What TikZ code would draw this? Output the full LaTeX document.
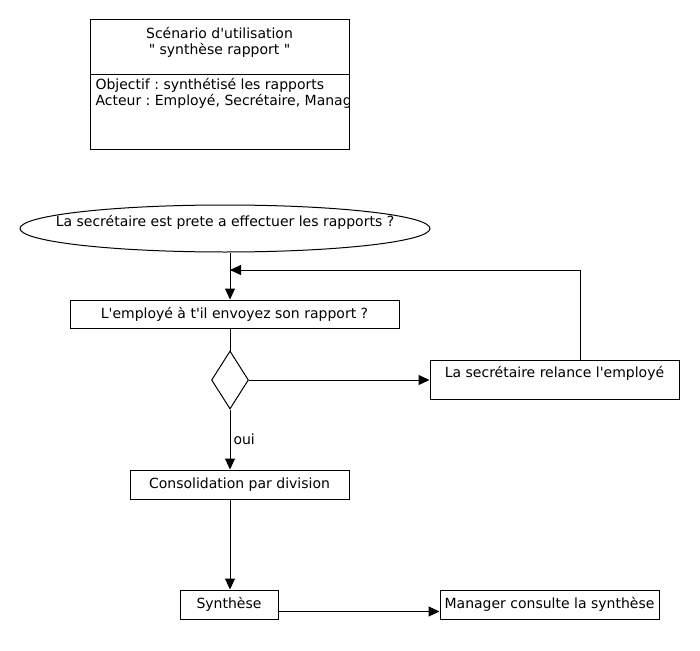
\documentclass[tikz,border=0pt]{standalone}
\usepackage{fontspec}
\setmainfont{DejaVu Sans}[Ligatures=TeXOff]
\frenchspacing
\usetikzlibrary{positioning,shapes.geometric,arrows.meta,calc}

\tikzset{
  texte/.style={font=\fontsize{14}{16}\selectfont},
  boite/.style={draw,rectangle,inner sep=0pt,texte},
  fleche/.style={-{Triangle[length=11pt,width=10pt]}},
}

\begin{document}
\begin{tikzpicture}
            [
                x=1pt,y=-1pt,line width=1pt
            ]
            \useasboundingbox (0,0) rectangle (700,650);

            % cadre du scenario
            \node[boite,minimum width=259pt,minimum height=129pt] (cadre) at (219.5,84.5) {};
            \draw (cadre.west |- 0,75) -- (cadre.east |- 0,75);
            \node[texte,align=center] (titre) at (219.5,42) {Scénario d'utilisation\\" synthèse rapport "};
            \begin{scope}
                \clip (cadre.north west) rectangle (cadre.south east);
                \node[texte,align=left,anchor=north west,inner sep=0pt] (objectif) at (95,78)
                    {Objectif : synthétisé les rapports\\Acteur : Employé, Secrétaire, Manager};
            \end{scope}

            % le deroulement
            \node[draw,ellipse,inner sep=0pt,texte,text depth=16pt,minimum width=410pt,minimum height=47pt] (debut) at (225,228.5)
                {\makebox[0pt]{La secrétaire est prete a effectuer les rapports ?}};
            \node[boite,minimum width=329pt,minimum height=28pt] (employe) at (234.5,314) {L'employé à t'il envoyez son rapport ?};
            \node[draw,diamond,inner sep=0pt,minimum width=37pt,minimum height=58pt] (choix) at (230,380) {};
            \node[boite,minimum width=249pt,minimum height=39pt,text depth=16pt] (relance) at (554.5,379.5) {La secrétaire relance l'employé};
            \node[boite,minimum width=219pt,minimum height=29pt] (conso) at (239.5,484.5) {Consolidation par division};
            \node[boite,minimum width=98pt,minimum height=29pt] (synthese) at (229,604.5) {Synthèse};
            \node[boite,minimum width=219pt,minimum height=29pt] (manager) at (549.5,604.5) {Manager consulte la synthèse};
            \coordinate (retour) at (230,270);

            \draw[fleche] (debut.south -| choix) -- (employe.north -| choix);
            \draw[fleche] (relance.north -| 580,0) |- (retour);
            \draw (employe.south -| choix) -- (choix.north);
            \draw[fleche] (choix.east) -- (relance.west |- choix.east);
            \draw[fleche] (choix.south) -- node[right,texte,inner sep=3pt] {oui} (conso.north -| choix);
            \draw[fleche] (conso.south -| choix) -- (synthese.north -| choix);
            \draw[fleche] ($(synthese.east)+(0,7)$) -- ($(manager.west)+(0,7)$);
        \end{tikzpicture}
\end{document}
